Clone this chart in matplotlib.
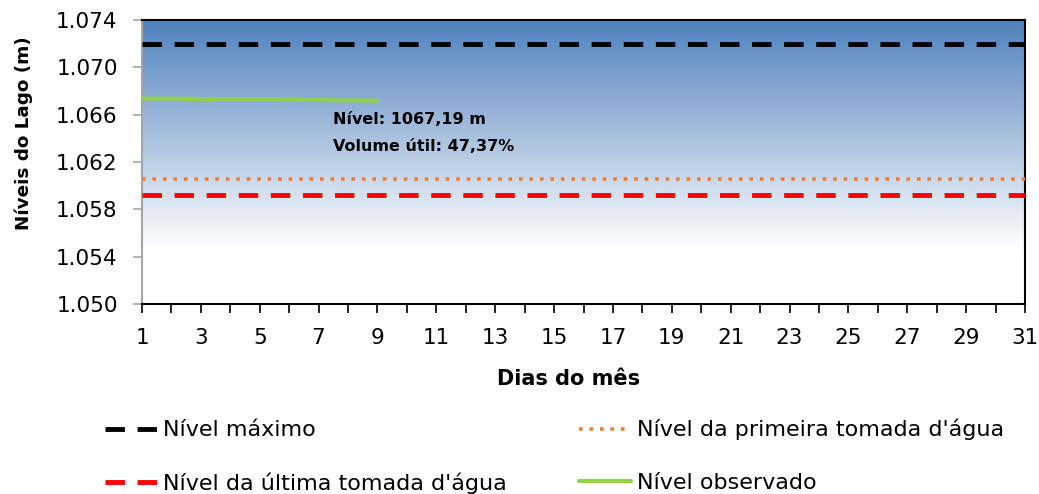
import numpy as np
import matplotlib.pyplot as plt
from matplotlib.colors import LinearSegmentedColormap

# Dados
dias = np.arange(1, 32)
nivel_maximo = 1072.0
nivel_primeira_tomada = 1060.53
nivel_ultima_tomada = 1059.18
dias_obs = [1, 2, 3, 4, 5, 6, 7, 8, 9]
nivel_obs = [1067.36, 1067.35, 1067.33, 1067.32, 1067.31, 1067.30, 1067.24, 1067.21, 1067.19]
y_ticks = [1050, 1054, 1058, 1062, 1066, 1070, 1074]
anotacao = "Nível: 1067,19 m\nVolume útil: 47,37%"

plt.rcParams['font.family'] = ['DejaVu Sans']

fig = plt.figure(figsize=(10.39, 4.94), dpi=100)
ax = fig.add_axes([0.1367, 0.3846, 0.8498, 0.5749])

ax.set_xlim(1, 31)
ax.set_ylim(1050, 1074)

# Fundo em degradê (branco abaixo de ~1054,5 -> azul no topo)
cmap = LinearSegmentedColormap.from_list(
    "lago", [(0.0, "#ffffff"), (0.19, "#ffffff"), (1.0, "#4f81bd")])
grad = np.linspace(0, 1, 256).reshape(-1, 1)
ax.imshow(grad, aspect="auto", cmap=cmap, origin="lower",
          extent=[1, 31, 1050, 1074], zorder=0, vmin=0, vmax=1)

# Linhas de referência
ax.plot(dias, np.full(len(dias), nivel_maximo), color="black", lw=3.5,
        dashes=(4, 2.6), label="Nível máximo", zorder=3)
ax.plot(dias, np.full(len(dias), nivel_primeira_tomada), color="#ed7d31", lw=2.6,
        dashes=(1, 1.9), label="Nível da primeira tomada d'água", zorder=3)
ax.plot(dias, np.full(len(dias), nivel_ultima_tomada), color="#ff0000", lw=3.5,
        dashes=(4, 2.6), label="Nível da última tomada d'água", zorder=3)
ax.plot(dias_obs, nivel_obs, color="#92d050", lw=3, label="Nível observado",
        solid_capstyle="round", zorder=4)

ax.text(7.5, 1066.25, anotacao, fontsize=11.5, fontweight="bold",
        va="top", ha="left", linespacing=2.0)

# Eixos
ax.set_yticks(y_ticks)
ax.set_yticklabels([f"{v:,.0f}".replace(",", ".") for v in y_ticks])
ax.set_xticks(dias)
ax.set_xticklabels([str(d) if d % 2 == 1 else "" for d in dias])
ax.tick_params(axis="both", labelsize=15.5, direction="out", length=6.5, width=1.2)
ax.tick_params(axis="y", color="#a6a6a6", pad=11)
ax.tick_params(axis="x", pad=11)

ax.spines["left"].set_color("#a6a6a6")
ax.spines["left"].set_linewidth(1.5)
for s in ["right", "top", "bottom"]:
    ax.spines[s].set_color("black")
    ax.spines[s].set_linewidth(1.5)

ax.set_ylabel("Níveis do Lago (m)", fontsize=13.2, fontweight="bold")
ax.yaxis.set_label_coords(-0.1234, 0.60)
ax.set_xlabel("Dias do mês", fontsize=15, fontweight="bold")
ax.xaxis.set_label_coords(0.4836, -0.23)

handles, labels = ax.get_legend_handles_labels()
order = [0, 2, 1, 3]
fig.legend([handles[i] for i in order], [labels[i] for i in order],
           loc="center left", bbox_to_anchor=(0.101, 0.076), ncol=2,
           frameon=False, fontsize=16, handlelength=2.35, handletextpad=0.27,
           columnspacing=3.25, labelspacing=1.45, borderpad=0, borderaxespad=0)

fig.savefig("out.png", dpi=100)
